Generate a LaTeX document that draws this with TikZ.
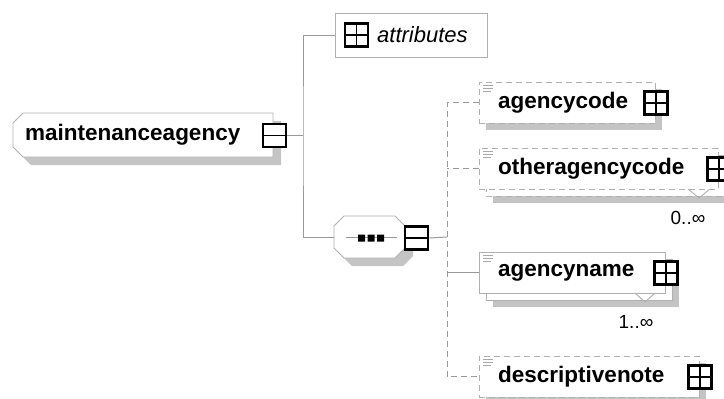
\documentclass[tikz,border=0pt]{standalone}
\usepackage{fontspec}
\setmainfont{Liberation Sans}
\definecolor{boxgray}{HTML}{B0B0B0}
\definecolor{linegray}{HTML}{9A9A9A}
\definecolor{shadowgray}{HTML}{C4C4C4}
\definecolor{icongray}{HTML}{A8A8A8}
\newcommand\docicon[1]{\draw[iconline] ([shift={(4,3)}]#1.north west) -- +(10,0) ([shift={(4,6)}]#1.north west) -- +(10,0) ([shift={(4,9)}]#1.north west) -- +(8,0);}
\begin{document}
\begin{tikzpicture}[x=1pt,y=-1pt,
  conn/.style={draw=linegray, line width=1pt},
  optconn/.style={conn, dash pattern=on 6pt off 4pt},
  elembox/.style={draw=boxgray, fill=white, line width=0.9pt, minimum height=41pt, inner sep=0pt, anchor=north west},
  optbox/.style={elembox, dash pattern=on 6pt off 4pt},
  shadowbox/.style={fill=shadowgray, draw=none, minimum height=41pt, inner sep=0pt, anchor=north west},
  lbl/.style={font=\fontsize{22.5}{27}\selectfont\bfseries, anchor=west, inner sep=0pt},
  mult/.style={font=\fontsize{19}{23}\selectfont, inner sep=0pt},
  pmbox/.style={draw=black, line width=2.6pt, fill=white, minimum size=23pt, inner sep=0pt},
  plusbox/.style={pmbox, path picture={\draw[line width=1.6pt] (path picture bounding box.north) -- (path picture bounding box.south) (path picture bounding box.west) -- (path picture bounding box.east);}},
  minusbox/.style={pmbox, path picture={\draw[line width=1.6pt] (path picture bounding box.west) -- (path picture bounding box.east);}},
  iconline/.style={draw=icongray, line width=0.8pt},
  notch/.style={draw=boxgray, line width=0.9pt}
]
\useasboundingbox (0,0) rectangle (724,399);

% ---------- root element ----------
\fill[shadowgray] (31,121) -- (281,121) -- (281,165) -- (31,165) -- (21,155) -- (21,131) -- cycle;
\draw[draw=boxgray, fill=white, line width=0.9pt] (23,113) -- (273,113) -- (273,157) -- (23,157) -- (13,147) -- (13,123) -- cycle;
\node[lbl] (root) at (25,135) {maintenanceagency};
\node[minusbox] (rootm) at (274.5,135.5) {};
\coordinate (jr) at (303,135.5);

% ---------- attributes ----------
\node[draw=boxgray, fill=white, line width=0.9pt, minimum width=152pt, minimum height=44pt, inner sep=0pt, anchor=north west] (attr) at (335,13) {};
\node[plusbox] (attrp) at (356.5,35) {};
\node[font=\fontsize{22}{26}\selectfont\itshape, anchor=west, inner sep=0pt] (attrl) at (377,35) {attributes};

% ---------- sequence ----------
\fill[shadowgray] (352,224) -- (403,224) -- (413,234) -- (413,256) -- (403,266) -- (352,266) -- (342,256) -- (342,234) -- cycle;
\draw[draw=boxgray, fill=white, line width=0.9pt] (344,216) -- (395,216) -- (405,226) -- (405,248) -- (395,258) -- (344,258) -- (334,248) -- (334,226) -- cycle;
\node[minimum width=71pt, minimum height=42pt, inner sep=0pt, anchor=north west] (seq) at (334,216) {};
\draw[linegray, line width=0.8pt] (346,237) -- (397,237);
\fill[black] (358,234.5) rectangle (365,241.5) (367.5,234.5) rectangle (374.5,241.5) (377,234.5) rectangle (384,241.5);
\node[minusbox] (seqm) at (416.5,238) {};
\coordinate (js) at (447,237);

% root connectors
\draw[conn] (rootm.east) -- (jr);
\draw[conn] (attr.west) -| (jr) |- (seq.west);

% ---------- agencycode ----------
\node[shadowbox, minimum width=176pt] (acs) at (486,89) {};
\node[optbox, minimum width=176pt] (ac) at (479,82) {};
\docicon{ac}
\node[lbl] (acl) at (498,102.5) {agencycode};
\node[plusbox] (acp) at (ac.east) {};

% ---------- otheragencycode ----------
\node[shadowbox, minimum width=239pt] (oacs) at (493,162) {};
\node[optbox, minimum width=239pt] (oacb) at (486,155) {};
\node[optbox, minimum width=239pt] (oac) at (479,148) {};
\docicon{oac}
\node[lbl] (oacl) at (498,168.5) {otheragencycode};
\node[plusbox] (oacp) at (oac.east) {};
\draw[notch] (688,189) -- (699,198) -- (710,189);
\node[mult] (oacm) at (688,218) {0..∞};

% ---------- agencyname ----------
\node[shadowbox, minimum width=186pt] (ans) at (493,266) {};
\node[elembox, minimum width=186pt] (anb) at (486,259) {};
\node[elembox, minimum width=186pt] (an) at (479,252) {};
\docicon{an}
\node[lbl] (anl) at (498,272.5) {agencyname};
\node[plusbox] (anp) at (an.east) {};
\draw[notch] (635,293) -- (645,302) -- (655,293);
\node[mult] (anm) at (636,322) {1..∞};

% ---------- descriptivenote ----------
\node[shadowbox, minimum width=220pt] (dns) at (486,363) {};
\node[optbox, minimum width=220pt] (dn) at (479,356) {};
\docicon{dn}
\node[lbl] (dnl) at (498,376.5) {descriptivenote};
\node[plusbox] (dnp) at (dn.east) {};

% sequence connectors
\draw[conn] (seqm.east) -- (js);
\draw[optconn] (ac.west) -| (js) |- (dn.west);
\draw[optconn] (oac.west) -- (oac.west -| js);
\draw[conn] (an.west) -- (an.west -| js);
\end{tikzpicture}
\end{document}
